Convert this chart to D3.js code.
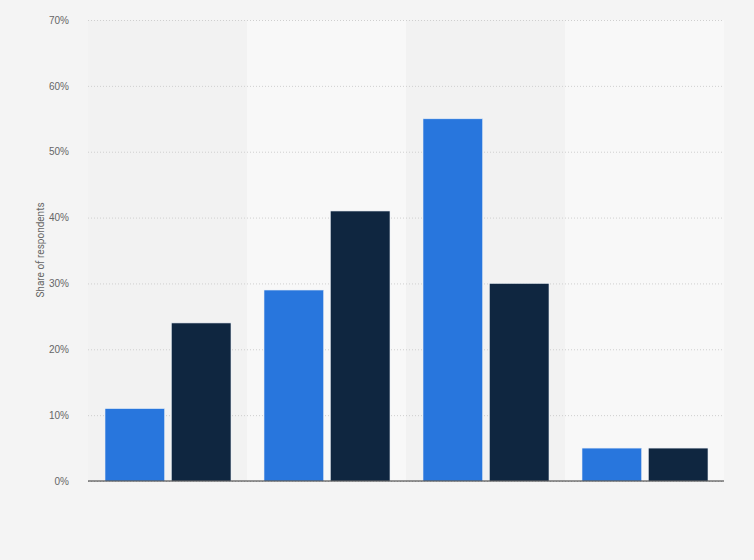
<!DOCTYPE html>
<html>
<head>
<meta charset="utf-8">
<script src="https://cdn.jsdelivr.net/npm/d3@7"></script>
<style>
  html, body { margin: 0; padding: 0; background: #f4f4f4; }
  svg { display: block; font-family: Roboto, Arial, sans-serif; }
  .tick text { fill: #666; font-size: 10px; }
</style>
</head>
<body>
<div id="chart"></div>
<script>
const categories = ['A', 'B', 'C', 'D']
const seriesNames = ['Series 1', 'Series 2']
const series1 = [11, 29, 55, 5]
const series2 = [24, 41, 30, 5]
const yTicks = [0, 10, 20, 30, 40, 50, 60, 70]

const width = 754
const height = 560
const margin = { top: 20, right: 30, bottom: 79, left: 88 }
const innerW = width - margin.left - margin.right
const innerH = height - margin.top - margin.bottom

const colors = ['#2876dd', '#0f2640']

const svg = d3.select('#chart').append('svg')
  .attr('width', width)
  .attr('height', height)

svg.append('rect').attr('width', width).attr('height', height).attr('fill', '#f4f4f4')

const g = svg.append('g').attr('transform', `translate(${margin.left},${margin.top})`)

const x0 = d3.scaleBand().domain(categories).range([0, innerW]).paddingInner(0).paddingOuter(0)
const x1 = d3.scaleBand().domain(seriesNames).range([17, x0.bandwidth() - 16]).paddingInner(0.1)
const y = d3.scaleLinear().domain([0, 70]).range([innerH, 0])

// alternating column bands
g.selectAll('.band')
  .data(categories)
  .join('rect')
  .attr('class', 'band')
  .attr('x', d => x0(d))
  .attr('y', 0)
  .attr('width', x0.bandwidth())
  .attr('height', innerH)
  .attr('fill', (d, i) => i % 2 ? '#f8f8f8' : '#f2f2f2')

// grid
g.append('g')
  .call(d3.axisLeft(y).tickValues(yTicks).tickSize(-innerW).tickFormat(''))
  .call(ax => ax.select('.domain').remove())
  .call(ax => ax.selectAll('.tick line')
    .attr('stroke', '#cfcfcf')
    .attr('stroke-dasharray', '1,2'))

// y axis labels
g.append('g')
  .attr('transform', 'translate(-16,0)')
  .call(d3.axisLeft(y).tickValues(yTicks).tickSize(0).tickFormat(d => d + '%'))
  .call(ax => ax.select('.domain').remove())

g.append('text')
  .attr('transform', `translate(${40 - margin.left},${250 - margin.top}) rotate(-90)`)
  .attr('text-anchor', 'middle')
  .attr('dy', '0.35em')
  .attr('fill', '#666')
  .attr('font-size', 10)
  .text('Share of respondents')

// bars
const rows = categories.map((c, i) => ({ cat: c, values: [series1[i], series2[i]] }))

g.selectAll('.grp')
  .data(rows)
  .join('g')
  .attr('class', 'grp')
  .attr('transform', d => `translate(${x0(d.cat)},0)`)
  .selectAll('rect')
  .data(d => d.values.map((v, j) => ({ key: seriesNames[j], v, j })))
  .join('rect')
  .attr('x', d => x1(d.key))
  .attr('y', d => y(d.v))
  .attr('width', x1.bandwidth())
  .attr('height', d => innerH - y(d.v))
  .attr('fill', d => colors[d.j])
  .attr('stroke', '#e8eef6')
  .attr('stroke-width', 0.6)

// baseline
g.append('line')
  .attr('x1', 0).attr('x2', innerW)
  .attr('y1', innerH).attr('y2', innerH)
  .attr('stroke', '#333')
  .attr('stroke-width', 1)
</script>
</body>
</html>
